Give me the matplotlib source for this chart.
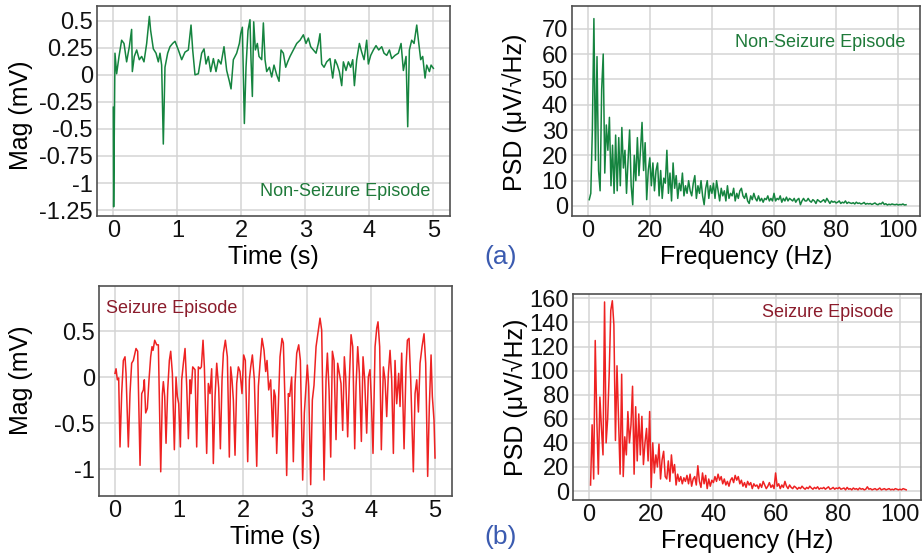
import numpy as np
import matplotlib
matplotlib.use('Agg')
import matplotlib.pyplot as plt

plt.rcParams['font.family'] = ['Liberation Sans', 'DejaVu Sans']

GREEN = '#15843f'
GREEN_TEXT = '#1f7a3a'
RED = '#ee2222'
RED_TEXT = '#8b1c2c'
LABEL_BLUE = '#3b5bb0'

# Non-seizure EEG segment (s, mV)
ns_time = [0.000, 0.005, 0.026, 0.052, 0.089, 0.130, 0.167, 0.208, 0.250, 0.286,
           0.297, 0.328, 0.365, 0.406, 0.443, 0.479, 0.521, 0.563, 0.583, 0.625,
           0.667, 0.703, 0.729, 0.755, 0.781, 0.807, 0.849, 0.885, 0.927, 0.964,
           1.016, 1.068, 1.120, 1.172, 1.214, 1.240, 1.276, 1.328, 1.380, 1.417,
           1.448, 1.484, 1.521, 1.563, 1.604, 1.641, 1.682, 1.729, 1.771, 1.813,
           1.839, 1.875, 1.927, 1.969, 1.990, 2.016, 2.047, 2.073, 2.104, 2.135,
           2.151, 2.172, 2.193, 2.219, 2.250, 2.276, 2.318, 2.344, 2.370, 2.396,
           2.438, 2.474, 2.510, 2.552, 2.589, 2.620, 2.656, 2.693, 2.724, 2.760,
           2.813, 2.865, 2.917, 2.969, 3.010, 3.047, 3.083, 3.125, 3.167, 3.203,
           3.229, 3.255, 3.292, 3.333, 3.385, 3.427, 3.464, 3.500, 3.531, 3.568,
           3.594, 3.635, 3.672, 3.708, 3.740, 3.766, 3.802, 3.844, 3.880, 3.917,
           3.958, 3.984, 4.021, 4.063, 4.104, 4.146, 4.193, 4.229, 4.271, 4.313,
           4.349, 4.401, 4.453, 4.495, 4.531, 4.573, 4.599, 4.625, 4.661, 4.698,
           4.740, 4.766, 4.802, 4.833, 4.870, 4.896, 4.938, 4.964, 5.000]
ns_mag = [-0.30, -1.22, 0.20, 0.01, 0.17, 0.32, 0.29, 0.12, 0.26, 0.42,
          0.03, 0.17, 0.23, 0.14, 0.17, 0.12, 0.29, 0.54, 0.41, 0.24,
          0.20, 0.12, 0.20, 0.09, -0.64, 0.07, 0.20, 0.26, 0.29, 0.31,
          0.23, 0.14, 0.21, 0.23, 0.46, 0.23, 0.00, 0.01, 0.20, 0.24,
          0.10, 0.17, 0.03, 0.15, 0.03, 0.14, 0.10, 0.26, 0.04, -0.06,
          -0.13, 0.14, 0.20, 0.29, 0.38, 0.44, -0.45, 0.07, 0.41, 0.51,
          0.14, -0.20, 0.49, 0.23, 0.29, 0.17, 0.14, 0.48, 0.14, 0.03,
          0.07, -0.02, 0.09, 0.00, -0.06, 0.23, 0.20, 0.07, 0.12, 0.17,
          0.23, 0.29, 0.32, 0.37, 0.29, 0.34, 0.26, 0.23, 0.20, 0.29,
          0.38, 0.10, 0.07, 0.12, 0.15, -0.03, 0.14, 0.09, 0.03, -0.10,
          0.12, 0.04, 0.12, 0.07, 0.14, -0.10, 0.14, 0.29, 0.21, 0.14,
          0.32, 0.10, 0.18, 0.23, 0.27, 0.23, 0.26, 0.20, 0.18, 0.23,
          0.15, 0.18, 0.20, 0.29, 0.04, 0.17, -0.48, 0.23, 0.32, 0.29,
          0.46, 0.32, 0.14, 0.17, -0.03, 0.09, 0.03, 0.09, 0.06]

# Seizure EEG segment (s, mV)
sz_time = [0.000, 0.016, 0.036, 0.057, 0.078, 0.104, 0.130, 0.156, 0.172, 0.208,
           0.234, 0.260, 0.286, 0.328, 0.354, 0.391, 0.417, 0.443, 0.458, 0.479,
           0.505, 0.531, 0.557, 0.578, 0.594, 0.620, 0.651, 0.677, 0.714, 0.740,
           0.755, 0.776, 0.797, 0.823, 0.849, 0.870, 0.896, 0.927, 0.953, 0.974,
           0.995, 1.021, 1.042, 1.068, 1.094, 1.120, 1.146, 1.172, 1.188, 1.214,
           1.250, 1.276, 1.302, 1.328, 1.349, 1.375, 1.396, 1.432, 1.458, 1.484,
           1.510, 1.536, 1.563, 1.589, 1.620, 1.646, 1.672, 1.693, 1.724, 1.755,
           1.786, 1.807, 1.828, 1.849, 1.875, 1.901, 1.927, 1.953, 1.984, 2.010,
           2.036, 2.073, 2.099, 2.120, 2.146, 2.177, 2.214, 2.240, 2.266, 2.297,
           2.328, 2.354, 2.375, 2.401, 2.432, 2.464, 2.484, 2.505, 2.526, 2.552,
           2.578, 2.609, 2.630, 2.661, 2.682, 2.708, 2.729, 2.760, 2.786, 2.813,
           2.839, 2.870, 2.896, 2.932, 2.958, 2.984, 3.005, 3.026, 3.057, 3.083,
           3.109, 3.141, 3.177, 3.203, 3.229, 3.266, 3.297, 3.318, 3.344, 3.370,
           3.396, 3.422, 3.453, 3.479, 3.505, 3.531, 3.557, 3.583, 3.604, 3.635,
           3.661, 3.688, 3.714, 3.745, 3.766, 3.792, 3.818, 3.849, 3.875, 3.901,
           3.932, 3.958, 3.984, 4.005, 4.031, 4.063, 4.089, 4.109, 4.135, 4.161,
           4.193, 4.219, 4.245, 4.271, 4.297, 4.323, 4.349, 4.375, 4.401, 4.432,
           4.453, 4.479, 4.516, 4.547, 4.568, 4.594, 4.620, 4.661, 4.688, 4.714,
           4.740, 4.766, 4.797, 4.828, 4.854, 4.885, 4.911, 4.938, 4.958, 4.984,
           5.000]
sz_mag = [0.04, 0.09, -0.03, -0.01, -0.76, -0.18, 0.18, 0.22, 0.04, -0.76,
          -0.18, 0.15, 0.18, 0.31, 0.28, -0.96, -0.18, -0.14, -0.03, -0.39,
          -0.34, -0.03, 0.22, 0.33, 0.29, 0.40, 0.35, 0.35, -1.03, -0.18,
          -0.05, -0.21, -0.72, -0.14, 0.18, 0.28, 0.04, -0.79, 0.00, -0.21,
          -0.29, -0.76, -0.03, 0.15, 0.31, -0.10, -0.67, -0.03, -0.18, 0.11,
          0.08, -0.76, 0.11, 0.09, 0.11, 0.40, 0.11, -0.83, -0.07, -0.18,
          0.09, -0.94, -0.21, 0.15, -0.12, -0.78, -0.03, 0.26, 0.40, 0.22,
          -0.87, 0.11, -0.03, -0.25, -0.85, -0.07, 0.11, 0.06, -0.18, 0.24,
          0.18, -0.92, -0.03, 0.11, 0.24, -0.03, -0.97, -0.10, 0.15, 0.42,
          0.29, 0.06, 0.18, -0.14, -0.03, -0.65, -0.14, -0.21, -0.83, -0.32,
          0.22, 0.42, 0.37, -0.39, -1.07, -0.18, -0.21, 0.00, -0.92, -0.07,
          0.26, 0.35, 0.18, -1.12, -0.39, -0.10, 0.13, -0.10, -1.17, -0.25,
          -0.09, 0.33, 0.51, 0.64, 0.51, -1.12, -0.03, 0.26, -0.14, -0.87,
          0.28, 0.18, -0.68, 0.15, 0.04, -0.07, -0.58, 0.22, 0.00, -0.65,
          -0.03, 0.46, 0.33, -0.78, -0.10, 0.33, 0.04, -0.70, 0.22, -0.03,
          -0.61, 0.00, 0.08, -0.25, -0.83, 0.33, 0.53, 0.60, 0.33, -0.79,
          0.11, -0.03, -0.43, 0.04, 0.29, -0.03, -0.83, 0.18, -0.29, 0.04,
          -0.32, 0.26, -0.78, 0.11, 0.40, 0.42, -0.03, -1.03, -0.18, -0.03,
          -0.38, 0.15, 0.33, 0.47, 0.15, -1.08, -0.32, 0.24, -0.21, -0.47,
          -0.88]

# Spectra, 0.5 Hz bins from 0.5 Hz up
FREQ_STEP = 0.5
ns_psd = [2.5, 5, 30, 74, 18, 59, 14, 6, 46, 60,
          13, 32, 22, 35, 8, 24, 5, 28, 6, 27,
          8, 31, 15, 22, 5, 18, 30, 8, 0.5, 20,
          10, 27, 12, 22, 33, 14, 25, 2.5, 14, 19,
          8, 17, 6, 14, 17, 4, 14, 3, 11, 9,
          22, 5, 13, 2, 17, 7, 12, 3, 9, 6,
          13, 4, 8, 5, 10, 6, 4, 9, 12, 3,
          8, 5, 10, 4, 0.5, 7, 10, 3, 8, 5,
          9, 3, 10, 6, 2, 7, 4, 6, 2, 8,
          3, 5, 4, 7, 2, 5, 3, 6, 7, 4,
          3, 5, 2, 1, 4, 2.5, 5, 3, 2, 4,
          2, 3, 1.5, 3, 2.5, 4, 2, 3, 2, 5,
          2, 3, 2.5, 4, 1.5, 3, 2, 3.5, 2, 3,
          2.5, 2, 3, 1.5, 2.5, 3, 0.5, 2, 3, 2,
          2, 3, 2, 1.5, 2.5, 2, 1, 2.5, 2, 1.5,
          2, 2.5, 1.5, 3, 2, 1, 2, 1.5, 1.8, 1.2,
          1.5, 2, 1, 1.5, 1.2, 2, 1, 1.5, 1.2, 1,
          1.3, 0.8, 1.5, 1, 1.2, 0.8, 1, 1.4, 0.7, 1,
          0.8, 1, 0.6, 0.9, 1.2, 0.7, 0.5, 1, 0.8, 1.5,
          0.6, 0.9, 0.4, 0.7, 0.5, 0.8, 0.6, 0.5, 0.7, 0.4,
          0.6, 0.5, 0.8, 0.4, 0.5]
sz_psd = [5, 55, 10, 125, 60, 14, 78, 52, 30, 157,
          40, 60, 98, 150, 158, 138, 42, 104, 60, 14,
          97, 12, 45, 30, 66, 40, 55, 87, 14, 70,
          25, 64, 30, 62, 22, 40, 52, 25, 66, 3,
          40, 15, 30, 20, 39, 10, 26, 33, 12, 10,
          25, 8, 30, 15, 22, 5, 14, 8, 12, 6,
          11, 8, 13, 6, 14, 4, 10, 12, 5, 21,
          8, 3, 15, 6, 13, 2, 10, 4, 9, 7,
          12, 8, 14, 9, 12, 6, 10, 5, 8, 4,
          9, 11, 7, 13, 9, 12, 6, 9, 4, 7,
          3, 8, 5, 7, 2, 6, 4, 5, 2, 6,
          3, 8, 5, 2, 4, 7, 3, 5, 2, 15,
          4, 6, 2, 5, 3, 8, 4, 2, 5, 3,
          2, 4, 3, 1.5, 3, 2, 4, 2.5, 1.5, 3,
          2, 4, 2.5, 1.5, 3, 2, 3.5, 1.5, 2.5, 2,
          3, 1.5, 2.5, 3.5, 1.5, 2, 3, 1.5, 2.5, 2,
          3, 1.5, 2, 2.5, 1, 3, 1.5, 2, 1, 2.5,
          1.5, 2, 1, 2.5, 1.5, 2, 1, 1.5, 3.5, 1.5,
          2, 1, 1.5, 2, 1, 1.5, 2.5, 1, 1.5, 2,
          1, 1.5, 2, 1, 1.5, 1, 2, 1.5, 1, 1.5,
          1, 2, 1.5, 1]

ns_freq = FREQ_STEP * np.arange(1, len(ns_psd) + 1)
sz_freq = FREQ_STEP * np.arange(1, len(sz_psd) + 1)

time_ticks = [0, 1, 2, 3, 4, 5]
freq_ticks = [0, 20, 40, 60, 80, 100]
ns_mag_ticks = [0.5, 0.25, 0, -0.25, -0.5, -0.75, -1, -1.25]
ns_mag_labels = ['0.5', '0.25', '0', '-0.25', '-0.5', '-0.75', '-1', '-1.25']
sz_mag_ticks = [0.5, 0, -0.5, -1]
sz_mag_labels = ['0.5', '0', '-0.5', '-1']
ns_psd_ticks = [0, 10, 20, 30, 40, 50, 60, 70]
sz_psd_ticks = [0, 20, 40, 60, 80, 100, 120, 140, 160]

PSD_LABEL = 'PSD (\u03bcV/\u221aHz)'
TICK_SIZE = 17
LABEL_SIZE = 18
NOTE_SIZE = 13


def style_axes(ax):
    ax.grid(True, color='#d4d4d4', lw=1.1)
    ax.set_axisbelow(True)
    for sp in ax.spines.values():
        sp.set_color('#505050')
        sp.set_linewidth(1.2)
    ax.tick_params(length=0, labelsize=TICK_SIZE, pad=3, colors='#111111')


fig = plt.figure(figsize=(9.22, 5.58), dpi=100)

# (a) non-seizure, time domain
ax1 = fig.add_axes([0.1052, 0.6129, 0.3829, 0.3763])
ax1.plot(ns_time, ns_mag, color=GREEN, lw=1.1)
ax1.set_xlim(-0.255, 5.26)
ax1.set_ylim(-1.305, 0.636)
ax1.set_xticks(time_ticks)
ax1.set_yticks(ns_mag_ticks)
ax1.set_yticklabels(ns_mag_labels)
style_axes(ax1)
ax1.set_xlabel('Time (s)', fontsize=LABEL_SIZE, labelpad=2)
ax1.set_ylabel('Mag (mV)', fontsize=LABEL_SIZE)
ax1.yaxis.set_label_coords(-0.181, 0.48)
ax1.text(0.943, 0.116, 'Non-Seizure Episode', transform=ax1.transAxes,
         ha='right', va='center', fontsize=NOTE_SIZE, color=GREEN_TEXT)

# (a) non-seizure, spectrum
ax2 = fig.add_axes([0.6204, 0.6129, 0.3774, 0.3763])
ax2.plot(ns_freq, ns_psd, color=GREEN, lw=1.1)
ax2.set_xlim(-5.05, 107.0)
ax2.set_ylim(-3.95, 78.96)
ax2.set_xticks(freq_ticks)
ax2.set_yticks(ns_psd_ticks)
style_axes(ax2)
ax2.set_xlabel('Frequency (Hz)', fontsize=LABEL_SIZE, labelpad=2)
ax2.set_ylabel(PSD_LABEL, fontsize=LABEL_SIZE)
ax2.yaxis.set_label_coords(-0.129, 0.495)
ax2.text(0.957, 0.825, 'Non-Seizure Episode', transform=ax2.transAxes,
         ha='right', va='center', fontsize=NOTE_SIZE, color=GREEN_TEXT)

# (b) seizure, time domain
ax3 = fig.add_axes([0.1074, 0.1111, 0.3829, 0.3763])
ax3.plot(sz_time, sz_mag, color=RED, lw=1.1)
ax3.set_xlim(-0.25, 5.266)
ax3.set_ylim(-1.293, 0.989)
ax3.set_xticks(time_ticks)
ax3.set_yticks(sz_mag_ticks)
ax3.set_yticklabels(sz_mag_labels)
style_axes(ax3)
ax3.set_xlabel('Time (s)', fontsize=LABEL_SIZE, labelpad=2)
ax3.set_ylabel('Mag (mV)', fontsize=LABEL_SIZE)
ax3.yaxis.set_label_coords(-0.187, 0.55)
ax3.text(0.02, 0.894, 'Seizure Episode', transform=ax3.transAxes,
         ha='left', va='center', fontsize=NOTE_SIZE, color=RED_TEXT)

# (b) seizure, spectrum
ax4 = fig.add_axes([0.6215, 0.1039, 0.3774, 0.3692])
ax4.plot(sz_freq, sz_psd, color=RED, lw=1.1)
ax4.set_xlim(-5.14, 106.75)
ax4.set_ylim(-7.47, 163.6)
ax4.set_xticks(freq_ticks)
ax4.set_yticks(sz_psd_ticks)
style_axes(ax4)
ax4.set_xlabel('Frequency (Hz)', fontsize=LABEL_SIZE, labelpad=2)
ax4.set_ylabel(PSD_LABEL, fontsize=LABEL_SIZE)
ax4.yaxis.set_label_coords(-0.129, 0.50)
ax4.text(0.92, 0.911, 'Seizure Episode', transform=ax4.transAxes,
         ha='right', va='center', fontsize=NOTE_SIZE, color=RED_TEXT)

fig.text(0.543, 0.540, '(a)', ha='center', va='center', fontsize=19, color=LABEL_BLUE)
fig.text(0.543, 0.038, '(b)', ha='center', va='center', fontsize=19, color=LABEL_BLUE)

fig.savefig('out.png', dpi=100)
plt.close(fig)
